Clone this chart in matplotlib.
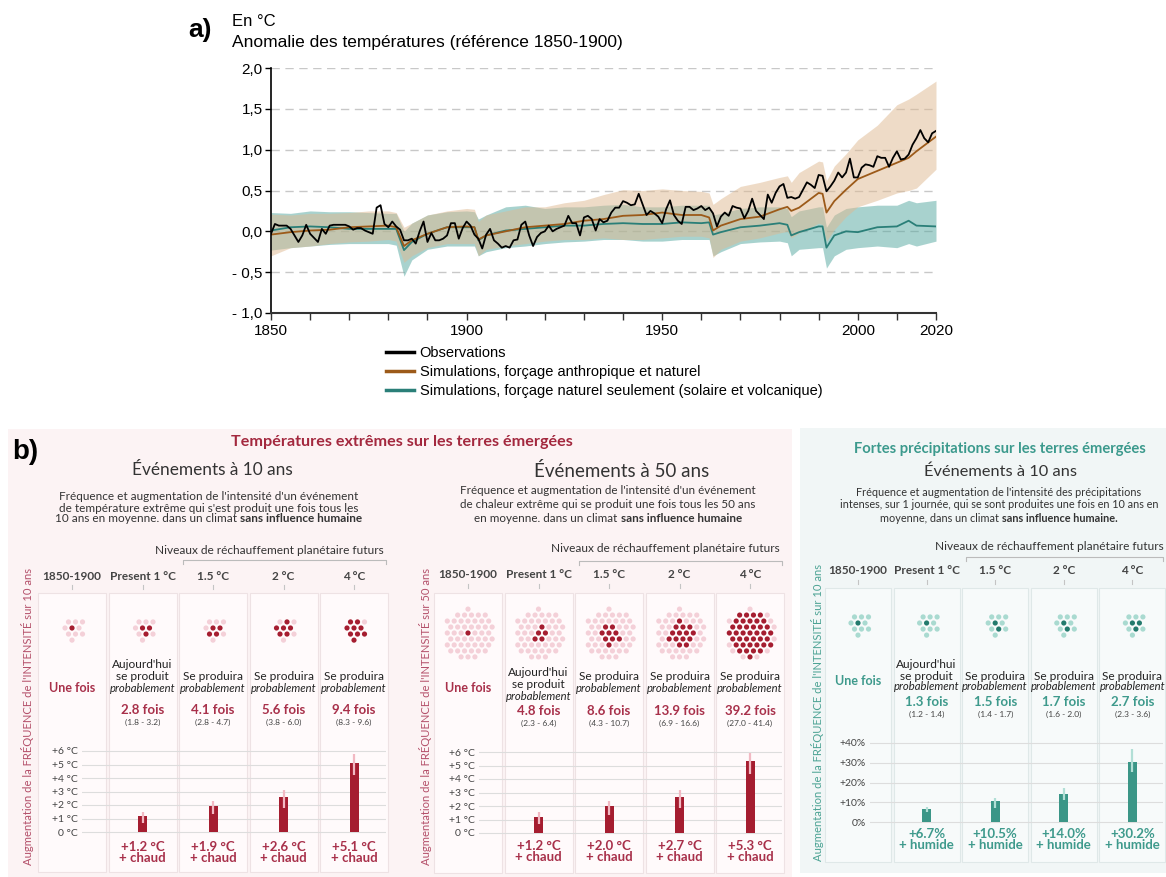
import numpy as np
import matplotlib
matplotlib.use("Agg")
import matplotlib.pyplot as plt
from matplotlib.patches import Rectangle
from matplotlib.lines import Line2D

# %% data -------------------------------------------------------------------

# a) observed global surface temperature anomaly (°C, ref 1850-1900), one value per year
obs_start = 1850
obs = [
    -0.03, 0.09, 0.07, 0.07, 0.07, 0.03, -0.05, -0.13, -0.05, 0.08,   # 1850s
    -0.03, -0.08, -0.13, 0.03, -0.03, 0.07, 0.08, 0.08, 0.08, 0.08,   # 1860s
    0.06, 0.02, 0.04, 0.04, 0.01, -0.01, -0.03, 0.29, 0.32, 0.09,     # 1870s
    0.05, 0.12, 0.06, 0.02, -0.11, -0.11, -0.09, -0.15, 0.00, 0.12,   # 1880s
    -0.13, -0.02, -0.11, -0.11, -0.09, -0.05, 0.10, 0.10, -0.09, 0.04,  # 1890s
    0.12, 0.07, -0.04, -0.09, -0.21, -0.04, 0.03, -0.11, -0.15, -0.20,  # 1900s
    -0.18, -0.20, -0.11, -0.10, 0.08, 0.12, -0.05, -0.18, -0.07, -0.02,  # 1910s
    0.00, 0.07, 0.00, 0.03, 0.05, 0.07, 0.19, 0.10, 0.10, -0.05,      # 1920s
    0.17, 0.19, 0.15, 0.01, 0.15, 0.11, 0.13, 0.23, 0.29, 0.29,       # 1930s
    0.37, 0.35, 0.32, 0.33, 0.46, 0.33, 0.20, 0.25, 0.22, 0.18,       # 1940s
    0.10, 0.27, 0.38, 0.20, 0.13, 0.09, 0.30, 0.30, 0.26, 0.28,       # 1950s
    0.31, 0.26, 0.29, 0.22, 0.06, 0.18, 0.23, 0.19, 0.31, 0.29,       # 1960s
    0.28, 0.16, 0.25, 0.40, 0.25, 0.20, 0.15, 0.45, 0.35, 0.47,       # 1970s
    0.55, 0.58, 0.41, 0.42, 0.40, 0.42, 0.51, 0.60, 0.57, 0.53,       # 1980s
    0.69, 0.68, 0.49, 0.55, 0.62, 0.72, 0.66, 0.72, 0.89, 0.66,       # 1990s
    0.66, 0.78, 0.82, 0.81, 0.79, 0.92, 0.90, 0.90, 0.79, 0.90,       # 2000s
    0.98, 0.88, 0.89, 0.94, 1.06, 1.14, 1.24, 1.14, 1.09, 1.20,       # 2010s
    1.23,
]

sim_years = [1850, 1855, 1860, 1865, 1870, 1875, 1880, 1882, 1884, 1886,
             1890, 1895, 1900, 1902, 1903, 1905, 1910, 1915, 1920, 1925,
             1930, 1935, 1940, 1945, 1950, 1955, 1960, 1962, 1963, 1965,
             1970, 1975, 1980, 1982, 1983, 1985, 1990, 1991, 1992, 1994,
             1997, 2000, 2005, 2010, 2013, 2015, 2020]

anthro_mean = [-0.04, -0.01, 0.01, 0.02, 0.05, 0.06, 0.07, 0.05, -0.18, -0.11,
               -0.03, 0.05, 0.06, 0.05, -0.10, -0.05, 0.00, 0.05, 0.07, 0.09,
               0.13, 0.15, 0.19, 0.20, 0.23, 0.20, 0.20, 0.17, 0.01, 0.07,
               0.15, 0.18, 0.27, 0.30, 0.25, 0.29, 0.47, 0.46, 0.23, 0.37,
               0.51, 0.64, 0.74, 0.84, 0.90, 0.98, 1.16]
anthro_lo = [-0.30, -0.20, -0.18, -0.15, -0.13, -0.12, -0.10, -0.12, -0.38, -0.30,
             -0.20, -0.15, -0.15, -0.15, -0.30, -0.22, -0.18, -0.15, -0.12, -0.10,
             -0.10, -0.08, -0.10, -0.10, -0.08, -0.06, -0.06, -0.08, -0.32, -0.22,
             -0.12, -0.08, -0.02, 0.00, -0.08, -0.02, 0.10, 0.08, -0.12, 0.02,
             0.18, 0.30, 0.38, 0.47, 0.50, 0.53, 0.76]
anthro_hi = [0.21, 0.20, 0.22, 0.22, 0.23, 0.25, 0.25, 0.23, 0.05, 0.10,
             0.20, 0.25, 0.28, 0.27, 0.12, 0.20, 0.25, 0.30, 0.30, 0.35,
             0.38, 0.45, 0.51, 0.50, 0.52, 0.50, 0.49, 0.47, 0.33, 0.40,
             0.55, 0.60, 0.66, 0.68, 0.60, 0.72, 0.86, 0.85, 0.62, 0.80,
             0.95, 1.12, 1.30, 1.55, 1.62, 1.68, 1.84]

nat_mean = [0.01, 0.05, 0.06, 0.05, 0.03, 0.03, 0.03, 0.03, -0.23, -0.13,
            -0.03, 0.05, 0.05, 0.05, -0.11, -0.05, 0.01, 0.03, 0.05, 0.07,
            0.07, 0.09, 0.10, 0.09, 0.09, 0.11, 0.10, 0.11, -0.04, -0.01,
            0.05, 0.07, 0.10, 0.08, -0.05, -0.01, 0.06, 0.06, -0.20, -0.05,
            0.00, -0.01, 0.05, 0.06, 0.13, 0.07, 0.06]
nat_lo = [-0.23, -0.20, -0.18, -0.16, -0.15, -0.15, -0.15, -0.17, -0.55, -0.35,
          -0.22, -0.18, -0.18, -0.18, -0.30, -0.25, -0.20, -0.18, -0.15, -0.13,
          -0.12, -0.10, -0.10, -0.12, -0.12, -0.10, -0.10, -0.10, -0.30, -0.25,
          -0.15, -0.13, -0.12, -0.14, -0.30, -0.22, -0.20, -0.20, -0.45, -0.30,
          -0.22, -0.20, -0.18, -0.20, -0.15, -0.18, -0.12]
nat_hi = [0.23, 0.22, 0.25, 0.24, 0.24, 0.23, 0.22, 0.22, 0.00, 0.10,
          0.20, 0.24, 0.25, 0.24, 0.15, 0.20, 0.30, 0.32, 0.28, 0.30,
          0.30, 0.32, 0.33, 0.30, 0.30, 0.32, 0.32, 0.32, 0.20, 0.22,
          0.28, 0.30, 0.30, 0.28, 0.18, 0.25, 0.30, 0.30, 0.05, 0.20,
          0.28, 0.30, 0.32, 0.32, 0.38, 0.35, 0.38]

legend_labels = ["Observations",
                 "Simulations, forçage anthropique et naturel",
                 "Simulations, forçage naturel seulement (solaire et volcanique)"]

# b) extremes
columns = ["1850-1900", "Present 1 °C", "1.5 °C", "2 °C", "4 °C"]

hot10_freq = [1, 2.8, 4.1, 5.6, 9.4]
hot10_range = ["(1.8 - 3.2)", "(2.8 - 4.7)", "(3.8 - 6.0)", "(8.3 - 9.6)"]
hot10_int = [1.2, 1.9, 2.6, 5.1]
hot10_lo = [0.7, 1.3, 1.8, 4.2]
hot10_hi = [1.5, 2.3, 3.1, 5.8]

hot50_freq = [1, 4.8, 8.6, 13.9, 39.2]
hot50_range = ["(2.3 - 6.4)", "(4.3 - 10.7)", "(6.9 - 16.6)", "(27.0 - 41.4)"]
hot50_int = [1.2, 2.0, 2.7, 5.3]
hot50_lo = [0.7, 1.3, 1.85, 4.4]
hot50_hi = [1.55, 2.4, 3.2, 5.95]

rain_freq = [1, 1.3, 1.5, 1.7, 2.7]
rain_range = ["(1.2 - 1.4)", "(1.4 - 1.7)", "(1.6 - 2.0)", "(2.3 - 3.6)"]
rain_int = [6.7, 10.5, 14.0, 30.2]
rain_lo = [5.2, 7.0, 11.0, 25.5]
rain_hi = [7.7, 12.2, 17.0, 37.0]

temp_ticks = [0, 1, 2, 3, 4, 5, 6]
rain_ticks = [0, 10, 20, 30, 40]

# %% figure -----------------------------------------------------------------
W, H = 1166, 877
fig = plt.figure(figsize=(W / 100, H / 100), dpi=100)
SANS = ["Liberation Sans", "DejaVu Sans"]
NARROW = ["Liberation Sans Narrow", "Liberation Sans", "DejaVu Sans"]
LATO = ["Lato", "DejaVu Sans"]


def fax(l, t, r, b):
    # axes from pixel box (top-left origin)
    return fig.add_axes([l / W, 1 - b / H, (r - l) / W, (b - t) / H])


ov = fig.add_axes([0, 0, 1, 1])
ov.set_xlim(0, W)
ov.set_ylim(H, 0)
ov.axis("off")
renderer = fig.canvas.get_renderer()

# ---- a) line chart
ax = fax(271, 68, 936, 313)
ax.fill_between(sim_years, nat_lo, nat_hi, color="#53a79f", alpha=0.5, lw=0)
ax.fill_between(sim_years, anthro_lo, anthro_hi, color="#dfb991", alpha=0.5, lw=0)
h_nat, = ax.plot(sim_years, nat_mean, color="#2a7f78", lw=1.3)
h_ant, = ax.plot(sim_years, anthro_mean, color="#9c5a19", lw=1.3)
h_obs, = ax.plot(np.arange(obs_start, obs_start + len(obs)), obs, color="black", lw=1.3)
ax.set_xlim(1850, 2020)
ax.set_ylim(-1, 2)
yt = [-1, -0.5, 0, 0.5, 1, 1.5, 2]
ax.set_yticks(yt)
ax.set_yticklabels([("- " if v < 0 else "") + f"{abs(v):.1f}".replace(".", ",") for v in yt],
                   family=NARROW, fontsize=11)
for v in yt[1:]:
    ax.axhline(v, color="#c8c8c8", lw=1, dashes=(6, 4), zorder=0)
ax.set_xticks([1850, 1900, 1950, 2000, 2020])
ax.set_xticklabels(["1850", "1900", "1950", "2000", "2020"], family=NARROW, fontsize=11)
ax.set_xticks(np.arange(1850, 2021, 10), minor=True)
ax.tick_params(axis="x", which="both", length=5, width=1, color="#333", pad=3)
ax.tick_params(axis="y", length=4, width=1, pad=2)
for s in ["top", "right"]:
    ax.spines[s].set_visible(False)
ax.spines["left"].set_linewidth(1.2)
ax.spines["bottom"].set_linewidth(1.5)
ax.spines["bottom"].set_color("#333")
ax.patch.set_alpha(0)

fig.text(188 / W, 1 - 30 / H, "a)", fontsize=19, weight="bold", family=SANS, va="center")
fig.text(232 / W, 1 - 22 / H, "En °C", fontsize=12, family=SANS, va="center")
fig.text(232 / W, 1 - 43 / H, "Anomalie des températures (référence 1850-1900)",
         fontsize=12.5, family=SANS, va="center")

leg_handles = [Line2D([], [], color="black", lw=2.5),
               Line2D([], [], color="#9c5a19", lw=2.5),
               Line2D([], [], color="#2a7f78", lw=2.5)]
fig.legend(leg_handles, legend_labels, loc="upper left", bbox_to_anchor=(386 / W, 1 - 346 / H),
           frameon=False, borderpad=0, borderaxespad=0, handlelength=1.9, handletextpad=0.4,
           labelspacing=0.33, prop={"family": NARROW, "size": 10.5})

# ---- b) infographic
ov.add_patch(Rectangle((8, 429), 784, 448, color="#fcf3f4", lw=0))
ov.add_patch(Rectangle((800, 428), 366, 445, color="#f1f6f6", lw=0))
ov.text(12, 452, "b)", fontsize=20, weight="bold", family=SANS, va="center")

RED, RED_TXT, RED_LIGHT, PINK = "#a51d30", "#a8304a", "#f2b9c3", "#f4d0d8"
TEAL, TEAL_TXT, TEAL_LIGHT, TEAL_DOT = "#3b9687", "#3e9a8c", "#b2dfd6", "#a9dad0"


def rich(xc, y, parts, size, color):
    objs, widths = [], []
    for txt, kw in parts:
        t = ov.text(0, y, txt, fontsize=size, color=color, va="center", ha="left", family=LATO, **kw)
        objs.append(t)
        widths.append(t.get_window_extent(renderer).width)
    gap = size * 0.26 * 100 / 72
    x = xc - (sum(widths) + gap * (len(parts) - 1)) / 2
    for t, w in zip(objs, widths):
        t.set_x(x)
        x += w + gap


def hex_cluster(n, spacing):
    pts = []
    for r in range(-7, 8):
        for c in range(-7, 8):
            pts.append(((c + 0.5 * (r % 2)) * spacing, r * spacing * np.sqrt(3) / 2))
    pts = np.array(pts)
    d = np.hypot(pts[:, 0] - 0.15 * spacing, pts[:, 1] - 0.1 * spacing)
    return pts[np.argsort(d)[:n]]


groups = [
    dict(x0=38, pitch=70.5, bw=68, box=(593, 872), head=576, niv=550, brk=560,
         dots_y=628, ndots=10, spacing=7.0, une=688, lines=(665, 677, 688), se=(677, 688),
         fy=710, ry=722, axy=(751, 832), lab=(847, 858), vx=28, vy=716,
         freq=hot10_freq, rng=hot10_range, val=hot10_int, lo=hot10_lo, hi=hot10_hi,
         ticks=temp_ticks, unit="°C", word="+ chaud", tick_right=78,
         dark=RED, light=PINK, txt=RED_TXT, err=RED_LIGHT, bg="#fffafb", edge="#eee2e4",
         vlabel="Augmentation de la FRÉQUENCE de l'INTENSITÉ sur 10 ans", vcol="#b4506a"),
    dict(x0=434, pitch=70.5, bw=68, box=(593, 873), head=575, niv=548, brk=561,
         dots_y=633, ndots=50, spacing=6.9, une=688, lines=(673, 684, 696), se=(677, 688),
         fy=711, ry=723, axy=(752, 833), lab=(846, 857), vx=425, vy=716,
         freq=hot50_freq, rng=hot50_range, val=hot50_int, lo=hot50_lo, hi=hot50_hi,
         ticks=temp_ticks, unit="°C", word="+ chaud", tick_right=475,
         dark=RED, light=PINK, txt=RED_TXT, err=RED_LIGHT, bg="#fffafb", edge="#eee2e4",
         vlabel="Augmentation de la FRÉQUENCE de l'INTENSITÉ sur 50 ans", vcol="#b4506a"),
    dict(x0=825, pitch=68.6, bw=66, box=(588, 862), head=571, niv=546, brk=557,
         dots_y=623, ndots=10, spacing=7.0, une=681, lines=(664, 676, 687), se=(676, 687),
         fy=702, ry=714, axy=(743, 822), lab=(834, 845), vx=817, vy=712,
         freq=rain_freq, rng=rain_range, val=rain_int, lo=rain_lo, hi=rain_hi,
         ticks=rain_ticks, unit="%", word="+ humide", tick_right=866,
         dark="#237a6d", light=TEAL_DOT, txt=TEAL_TXT, err=TEAL_LIGHT, bg="#f7fafa", edge="#dfe8e8",
         vlabel="Augmentation de la FRÉQUENCE de l'INTENSITÉ sur 10 ans", vcol="#4ca394"),
]

for g in groups:
    cx = [g["x0"] + g["bw"] / 2 + i * g["pitch"] for i in range(len(columns))]
    top, bot = g["box"]
    for i, c in enumerate(cx):
        ov.add_patch(Rectangle((c - g["bw"] / 2, top), g["bw"], bot - top,
                               facecolor=g["bg"], edgecolor=g["edge"], lw=0.8))
        ov.text(c, g["head"], columns[i], fontsize=8.5, weight="bold", color="#444",
                family=LATO, ha="center", va="center")
        ov.plot([c, c], [g["head"] + 9, g["head"] + 13], color="#c4c4c4", lw=0.8)
        # dots
        pts = hex_cluster(g["ndots"], g["spacing"])
        k = int(np.round(g["freq"][i]))
        cols = [g["dark"]] * k + [g["light"]] * (g["ndots"] - k)
        ov.scatter(c + pts[:, 0], g["dots_y"] + pts[:, 1], s=14, c=cols, lw=0, zorder=3)
        if i == 0:
            ov.text(c, g["une"], "Une fois", fontsize=9, weight="bold", color=g["txt"],
                    family=LATO, ha="center", va="center")
            continue
        if i == 1:
            for yy, t in zip(g["lines"][:2], ["Aujourd'hui", "se produit"]):
                ov.text(c, yy, t, fontsize=8.6, color="#222", family=LATO, ha="center", va="center")
            ov.text(c, g["lines"][2], "probablement", fontsize=8.1, style="italic", color="#222",
                    family=LATO, ha="center", va="center")
        else:
            ov.text(c, g["se"][0], "Se produira", fontsize=8.6, color="#222", family=LATO,
                    ha="center", va="center")
            ov.text(c, g["se"][1], "probablement", fontsize=8.1, style="italic", color="#222",
                    family=LATO, ha="center", va="center")
        ov.text(c, g["fy"], f"{g['freq'][i]:.1f} fois", fontsize=9.5, weight="bold",
                color=g["txt"], family=LATO, ha="center", va="center")
        ov.text(c, g["ry"], g["rng"][i - 1], fontsize=6, color="#444", family=LATO,
                ha="center", va="center")
        v = g["val"][i - 1]
        lab = f"+{v:.1f} °C" if g["unit"] == "°C" else f"+{v:.1f}%"
        ov.text(c, g["lab"][0], lab, fontsize=9.5, weight="bold", color=g["txt"],
                family=LATO, ha="center", va="center")
        ov.text(c, g["lab"][1], g["word"], fontsize=9.5, weight="bold", color=g["txt"],
                family=LATO, ha="center", va="center")

    # bracket over future warming levels
    bx0, bx1 = cx[2] - g["bw"] / 2 + 4, cx[4] + g["bw"] / 2 - 2
    ov.plot([bx0, bx0, bx1, bx1], [g["brk"] + 4, g["brk"], g["brk"], g["brk"] + 4],
            color="#bbbbbb", lw=0.8)
    ov.text((cx[2] + cx[4]) / 2 - 14, g["niv"], "Niveaux de réchauffement planétaire futurs",
            fontsize=8.6, color="#333", family=LATO, ha="center", va="center")

    ov.text(g["vx"], g["vy"], g["vlabel"], rotation=90, fontsize=8.1, color=g["vcol"],
            family=LATO, ha="center", va="center")

    # bar panel
    t_px, b_px = g["axy"]
    ymax = g["ticks"][-1]
    ppu = (b_px - t_px) / ymax
    left, right = g["tick_right"] + 4, cx[4] + g["bw"] / 2 - 2
    bax = fax(left, t_px - 3, right, b_px + 3)
    bax.set_xlim(left, right)
    bax.set_ylim(-3 / ppu, ymax + 3 / ppu)
    bax.bar(cx[1:], g["val"], width=9, color=g["dark"] if g["unit"] == "°C" else TEAL, zorder=2)
    bax.vlines(cx[1:], g["lo"], g["hi"], color=g["err"], lw=1.6, zorder=3)
    bax.set_yticks(g["ticks"])
    if g["unit"] == "°C":
        tl = [("+" if t > 0 else "") + f"{t} °C" for t in g["ticks"]]
    else:
        tl = [("+" if t > 0 else "") + f"{t}%" for t in g["ticks"]]
    bax.set_yticklabels(tl, family=LATO, fontsize=7.5, color="#444")
    bax.set_xticks([])
    bax.tick_params(axis="y", length=0, pad=3)
    bax.yaxis.grid(True, color="#dddddd", lw=0.8)
    bax.set_axisbelow(True)
    for s in bax.spines.values():
        s.set_visible(False)
    bax.patch.set_alpha(0)

# titles and descriptions
ov.text(402, 442, "Températures extrêmes sur les terres émergées", fontsize=11.6,
        weight="bold", color="#a3283e", family=LATO, ha="center", va="center")
ov.text(1000, 449, "Fortes précipitations sur les terres émergées", fontsize=10.6,
        weight="bold", color="#3c9a8d", family=LATO, ha="center", va="center")
for xc, y, t, fs in [(212, 470, "Événements à 10 ans", 12.4), (622, 471, "Événements à 50 ans", 13.5),
                     (1000, 472, "Événements à 10 ans", 11.8)]:
    ov.text(xc, y, t, fontsize=fs, color="#333", family=LATO, ha="center", va="center")

desc = [
    (209, [496, 508, 519], 8.5,
     ["Fréquence et augmentation de l'intensité d'un événement",
      "de température extrême qui s'est produit une fois tous les",
      "10 ans en moyenne. dans un climat"], "sans influence humaine"),
    (608, [491, 504, 518], 8.4,
     ["Fréquence et augmentation de l'intensité d'un événement",
      "de chaleur extrême qui se produit une fois tous les 50 ans",
      "en moyenne. dans un climat"], "sans influence humaine"),
    (999, [492, 505, 518], 7.8,
     ["Fréquence et augmentation de l'intensité des précipitations",
      "intenses, sur 1 journée, qui se sont produites une fois en 10 ans en",
      "moyenne, dans un climat"], "sans influence humaine."),
]
for xc, ys, fs, lines, bold in desc:
    for y, line in zip(ys[:2], lines[:2]):
        ov.text(xc, y, line, fontsize=fs, color="#333", family=LATO, ha="center", va="center")
    rich(xc, ys[2], [(lines[2], {}), (bold, {"weight": "bold"})], fs, "#333")

fig.savefig("out.png", dpi=100)
